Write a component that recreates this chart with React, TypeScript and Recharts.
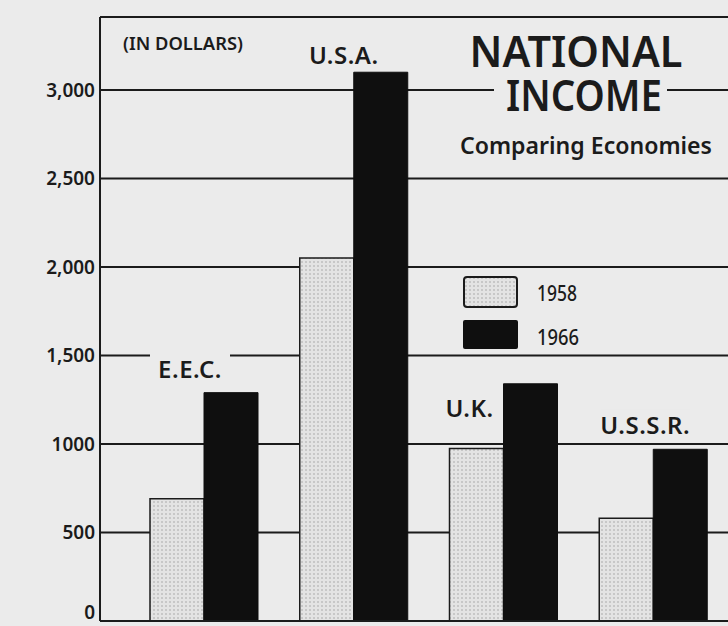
import React from "react";
import {
  BarChart,
  Bar,
  XAxis,
  YAxis,
  CartesianGrid,
  ReferenceLine,
  LabelList,
} from "recharts";

// ---- data ----
const categories = ["E.E.C.", "U.S.A.", "U.K.", "U.S.S.R."];
const income1958 = [690, 2050, 975, 580];
const income1966 = [1290, 3100, 1340, 970];
const seriesYears = ["1958", "1966"];
const yTicks = [0, 500, 1000, 1500, 2000, 2500, 3000];
const yTickLabels = ["0", "500", "1000", "1,500", "2,000", "2,500", "3,000"];
const yMax = 3412;

const data = categories.map((name, i) => ({
  name,
  v1958: income1958[i],
  v1966: income1966[i],
}));

// ---- styles ----
const BG = "#ebebeb";
const INK = "#1b1b1b";
const FONT = "'Noto Sans', 'DejaVu Sans', sans-serif";

// label placement relative to the 1966 bar (left edge, top)
const labelOffsets: Record<string, { dx: number; dy: number; w: number }> = {
  "E.E.C.": { dx: -14, dy: -24, w: 80 },
  "U.S.A.": { dx: -10, dy: -18, w: 72 },
  "U.K.": { dx: -34, dy: 24, w: 52 },
  "U.S.S.R.": { dx: -8, dy: -25, w: 90 },
};

const RegionLabel = (props: any) => {
  const { x, y, value } = props;
  const o = labelOffsets[value as string] || { dx: 0, dy: -20, w: 70 };
  const cx = Number(x) + o.dx;
  const cy = Number(y) + o.dy;
  return (
    <g>
      <rect x={cx - o.w / 2} y={cy - 15} width={o.w} height={27} fill={BG} />
      <text
        x={cx}
        y={cy}
        textAnchor="middle"
        dominantBaseline="central"
        fontFamily={FONT}
        fontSize={24}
        fontWeight={600}
        fill={INK}
        letterSpacing={0.5}
      >
        {value}
      </text>
    </g>
  );
};

const YTick = (props: any) => {
  const { x, y, payload } = props;
  const idx = yTicks.indexOf(payload.value);
  const label = idx >= 0 ? yTickLabels[idx] : String(payload.value);
  return (
    <text
      x={x}
      y={y}
      textAnchor="end"
      dominantBaseline="central"
      fontFamily={FONT}
      fontSize={19}
      fontWeight={600}
      fill={INK}
      dy={payload.value === 0 ? -9 : 0}
    >
      {label}
    </text>
  );
};

export default function App() {
  return (
    <div style={{ position: "relative", width: 728, height: 626, background: BG, overflow: "hidden" }}>
      <style>{`body{margin:0;background:${BG};}`}</style>
      <svg width={0} height={0} style={{ position: "absolute" }}>
        <defs>
          <pattern id="dots" width="4" height="4" patternUnits="userSpaceOnUse">
            <rect width="4" height="4" fill="#e3e3e3" />
            <circle cx="2" cy="2" r="0.8" fill="#a5a5a5" />
          </pattern>
        </defs>
      </svg>
      <BarChart
        width={728}
        height={626}
        data={data}
        margin={{ top: 17, right: 0, bottom: 5, left: 0 }}
        barGap={0}
        barSize={54}
      >
        <CartesianGrid horizontal vertical={false} stroke={INK} strokeWidth={2} />
        <XAxis dataKey="name" hide padding={{ left: 29, right: 0 }} />
        <YAxis
          width={100}
          domain={[0, yMax]}
          ticks={yTicks}
          interval={0}
          tickLine={false}
          tickSize={3}
          tickMargin={2}
          axisLine={{ stroke: INK, strokeWidth: 2 }}
          tick={<YTick />}
        />
        <ReferenceLine y={yMax} stroke={INK} strokeWidth={2} />
        <ReferenceLine y={0} stroke={INK} strokeWidth={2} />
        <Bar
          dataKey="v1958"
          name={seriesYears[0]}
          fill="url(#dots) #e3e3e3"
          stroke={INK}
          strokeWidth={1.5}
          isAnimationActive={false}
        />
        <Bar
          dataKey="v1966"
          name={seriesYears[1]}
          fill="#0f0f0f"
          stroke="#0f0f0f"
          strokeWidth={1}
          isAnimationActive={false}
        >
          <LabelList dataKey="name" content={RegionLabel} />
        </Bar>
      </BarChart>
      <svg
        width={728}
        height={626}
        style={{ position: "absolute", left: 0, top: 0, pointerEvents: "none" }}
      >
        <text
          x={183}
          y={50}
          textAnchor="middle"
          fontFamily={FONT}
          fontSize={17}
          fontWeight={600}
          fill={INK}
          textLength={120}
          lengthAdjust="spacingAndGlyphs"
        >
          (IN DOLLARS)
        </text>
        <text
          x={576}
          y={67}
          textAnchor="middle"
          fontFamily={FONT}
          fontSize={43}
          fontWeight={600}
          fill={INK}
          textLength={213}
          lengthAdjust="spacingAndGlyphs"
        >
          NATIONAL
        </text>
        <rect x={494} y={78} width={173} height={36} fill={BG} />
        <text
          x={584}
          y={111}
          textAnchor="middle"
          fontFamily={FONT}
          fontSize={43}
          fontWeight={600}
          fill={INK}
          textLength={156}
          lengthAdjust="spacingAndGlyphs"
        >
          INCOME
        </text>
        <text
          x={586}
          y={154}
          textAnchor="middle"
          fontFamily={FONT}
          fontSize={24}
          fontWeight={600}
          fill={INK}
          textLength={252}
          lengthAdjust="spacingAndGlyphs"
        >
          Comparing Economies
        </text>
        {/* legend */}
        <rect x={464} y={277} width={53} height={30} rx={3} fill="url(#dots) #e3e3e3" stroke={INK} strokeWidth={2} />
        <text x={537} y={301} fontFamily={FONT} fontSize={21} fontWeight={500} fill={INK} textLength={40} lengthAdjust="spacingAndGlyphs">
          {seriesYears[0]}
        </text>
        <rect x={463} y={320} width={55} height={29} rx={2} fill="#0f0f0f" />
        <text x={537} y={345} fontFamily={FONT} fontSize={21} fontWeight={500} fill={INK} textLength={42} lengthAdjust="spacingAndGlyphs">
          {seriesYears[1]}
        </text>
      </svg>
    </div>
  );
}
